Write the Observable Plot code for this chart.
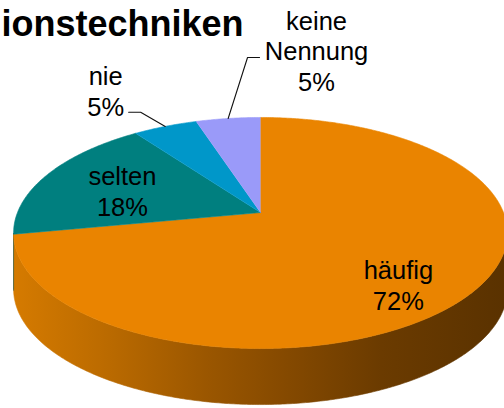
<!DOCTYPE html>
<html><head><meta charset="utf-8">
<script src="https://cdn.jsdelivr.net/npm/d3@7"></script>
<script src="https://cdn.jsdelivr.net/npm/@observablehq/plot@0.6"></script>
<style>body{margin:0;background:#fff;}</style>
</head><body><div id="chart"></div>
<script>
// ---- data ----
const title = "ionstechniken";
const categories = ["häufig", "selten", "nie", "keine Nennung"];
const labelLines = ["häufig", "selten", "nie", "keine\nNennung"];
const values = [72, 18, 5, 5];

// ---- styles ----
const topColors = ["#EA8400", "#007F7F", "#0097C9", "#9A9AF9"];
const sideColors = ["url(#sideGradOrange)", "#004C4C", "#005C78", "#5C5C96"];
const fontFamily = "'Liberation Sans', Arial, sans-serif";

// ---- layout (pie geometry and label placement) ----
const W = 504, H = 408;
const geo = {cx: 260, cy: 212, ax: 243, by: 111.9, k: 0.1775, depth: 56};
// label placement: angle nudge from slice mid-angle (deg) and radial factor
const labelPlace = [
  {dA: 9.0, r: 0.77},
  {dA: -2.5, r: 0.623},
  {dA: -3.3, r: 1.566, end: [23, 21.7], elbow: [35, 21.7]},
  {dA: 18.05, r: 1.973, end: [-57, 7], elbow: [-69, 7]}
];

function project(deg, r = 1, dz = 0) {
  const t = deg * Math.PI / 180;
  const u = r * Math.sin(t), v = r * Math.cos(t);
  const s = 1 + geo.k * v;
  return {x: geo.cx + geo.ax * u / s, y: geo.cy - geo.by * v / s + dz};
}
function arc(a0, a1, dz = 0, r = 1) {
  const n = Math.max(2, Math.ceil(Math.abs(a1 - a0) / 0.5));
  return d3.range(n + 1).map(i => project(a0 + (a1 - a0) * i / n, r, dz));
}

const total = d3.sum(values);
let acc = 0;
const slices = values.map((v, i) => {
  const a0 = acc / total * 360; acc += v; const a1 = acc / total * 360;
  return {i, name: categories[i], a0, a1, mid: (a0 + a1) / 2};
});

// silhouette tangents of the side wall
const tR = Math.acos(-geo.k) * 180 / Math.PI;      // ~100.2 deg
const tL = 360 - tR;                               // ~259.8 deg

const marks = [];
// gradient defs
marks.push(() => {
  const ns = "http://www.w3.org/2000/svg";
  const defs = document.createElementNS(ns, "defs");
  const g = document.createElementNS(ns, "linearGradient");
  g.setAttribute("id", "sideGradOrange");
  g.setAttribute("gradientUnits", "userSpaceOnUse");
  g.setAttribute("x1", "10"); g.setAttribute("x2", "504");
  g.setAttribute("y1", "0"); g.setAttribute("y2", "0");
  [[0, "#D67B00"], [0.2, "#BA6A00"], [0.4, "#9A5600"], [0.55, "#864A00"], [0.75, "#6B3B00"], [1, "#5A3200"]]
    .forEach(([o, c]) => {
      const s = document.createElementNS(ns, "stop");
      s.setAttribute("offset", o); s.setAttribute("stop-color", c);
      g.appendChild(s);
    });
  defs.appendChild(g);
  return defs;
});

// side walls
slices.forEach(s => {
  const lo = Math.max(s.a0, tR), hi = Math.min(s.a1, tL);
  if (hi > lo) {
    const pts = [...arc(lo, hi, 0), ...arc(hi, lo, geo.depth)];
    marks.push(Plot.line(pts, {x: "x", y: "y", fill: sideColors[s.i], stroke: sideColors[s.i], strokeWidth: 0.6}));
  }
});
// top faces
slices.forEach(s => {
  const pts = [project(0, 0), ...arc(s.a0, s.a1, 0)];
  marks.push(Plot.line(pts, {x: "x", y: "y", fill: topColors[s.i], stroke: topColors[s.i], strokeWidth: 0.6}));
});

// labels
const labels = slices.map(s => {
  const p = project(s.mid + labelPlace[s.i].dA, labelPlace[s.i].r);
  return {x: p.x, y: p.y, text: labelLines[s.i] + "\n" + values[s.i] + "%", place: labelPlace[s.i], mid: s.mid};
});
labels.forEach(l => {
  if (l.place.end) {
    const edge = project(l.mid, 1);
    const pts = [edge,
      {x: l.x + l.place.elbow[0], y: l.y + l.place.elbow[1]},
      {x: l.x + l.place.end[0], y: l.y + l.place.end[1]}];
    marks.push(Plot.line(pts, {x: "x", y: "y", stroke: "#111", strokeWidth: 1.1}));
  }
});
marks.push(Plot.text(labels, {x: "x", y: "y", text: "text", fontSize: 25.5, lineHeight: 1.2,
  textAnchor: "middle", lineAnchor: "middle", fill: "#000", fontFamily}));

// title (cut at the left edge, as in the reference)
marks.push(Plot.text([title], {text: d => d, frameAnchor: "top-left", dx: 243, dy: 35,
  textAnchor: "end", lineAnchor: "bottom", fontSize: 36, fontWeight: "bold", fill: "#000", fontFamily}));

const chart = Plot.plot({
  width: W, height: H, margin: 0,
  x: {domain: [0, W], range: [0, W], axis: null},
  y: {domain: [0, H], range: [0, H], axis: null},
  style: {background: "#fff", overflow: "hidden"},
  marks
});
document.getElementById("chart").appendChild(chart);
</script>
</body></html>
